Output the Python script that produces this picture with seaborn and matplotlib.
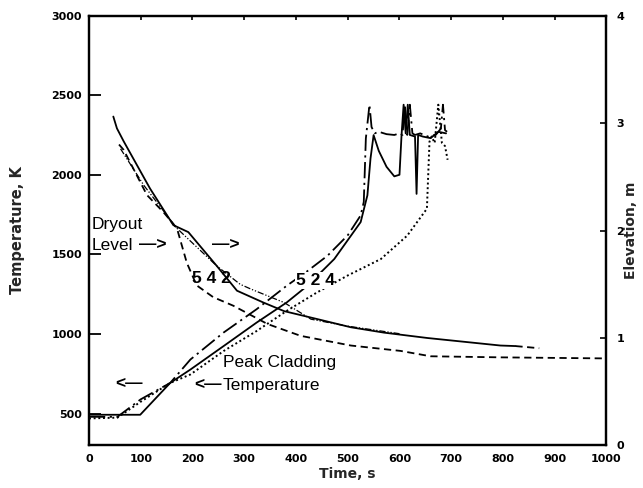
import matplotlib
matplotlib.use("Agg")
import matplotlib.pyplot as plt
import seaborn as sns
import pandas as pd

# ---------------- data ----------------
# Peak cladding temperature (left axis, K)
pct5_t = [0, 55, 100, 157, 196, 260, 324, 382, 420, 461, 500, 525, 531, 535, 542, 546, 552, 560, 575, 590,
          600, 606, 610, 615, 620, 625, 630, 640, 655, 670, 680, 684, 688, 692]
pct5_T = [480, 480, 590, 693, 840, 1009, 1156, 1303, 1390, 1492, 1620, 1745, 1829, 2228, 2440, 2300, 2260, 2270,
          2255, 2250, 2260, 2250, 2440, 2250, 2440, 2260, 2250, 2260, 2240, 2250, 2290, 2440, 2280, 2270]
pct2_t = [0, 99, 130, 157, 196, 260, 324, 382, 422, 474, 525, 538, 544, 550, 560, 575, 590, 600, 604, 608,
          612, 616, 620, 630, 633, 636, 645, 660, 675, 690]
pct2_T = [493, 493, 600, 693, 777, 924, 1072, 1198, 1303, 1471, 1703, 1871, 2102, 2249, 2150, 2050, 1990, 2000,
          2250, 2440, 2260, 2440, 2250, 2240, 1880, 2250, 2240, 2230, 2270, 2260]
pct4_t = [0, 55, 100, 157, 196, 260, 324, 382, 440, 499, 564, 615, 653, 658, 662, 668, 675, 682, 688, 693]
pct4_T = [470, 475, 575, 693, 746, 893, 1019, 1145, 1260, 1366, 1471, 1618, 1787, 2208, 2240, 2200, 2440, 2200,
          2180, 2094]

# Dryout level (right axis, m)
dry2_t = [47, 54, 67, 118, 163, 192, 247, 286, 337, 377, 442, 506, 570, 654, 795, 824]
dry2_z = [3.06, 2.95, 2.83, 2.39, 2.05, 1.985, 1.67, 1.44, 1.33, 1.25, 1.175, 1.10, 1.05, 1.00, 0.93, 0.925]
dry2b_t = [824, 870]
dry2b_z = [0.925, 0.905]
dry4_t = [61, 106, 170, 247, 292, 313, 377, 429, 500, 600]
dry4_z = [2.76, 2.42, 2.02, 1.67, 1.50, 1.455, 1.33, 1.175, 1.11, 1.04]
dry5_t = [58, 67, 112, 144, 170, 189, 208, 240, 279, 345, 409, 506, 602, 660, 795, 1000]
dry5_z = [2.80, 2.75, 2.33, 2.17, 2.02, 1.70, 1.49, 1.38, 1.30, 1.13, 1.02, 0.93, 0.88, 0.83, 0.82, 0.81]

x_ticks = [0, 100, 200, 300, 400, 500, 600, 700, 800, 900, 1000]
y_ticks = [500, 1000, 1500, 2000, 2500, 3000]
z_ticks = [0, 1, 2, 3, 4]

# ---------------- figure ----------------
sns.set_theme(style="white")
plt.rcParams['font.family'] = ['DejaVu Sans']

fig = plt.figure(figsize=(6.43, 4.88), dpi=100)
ax = fig.add_axes([0.1384, 0.0871, 0.8048, 0.8811])
ax2 = ax.twinx()

K = 'black'
dashdot = (0, (9, 2.5, 1.2, 2.5))
dashdotdot = (0, (5, 1.5, 1, 1.5, 1, 1.5))
dotted = (0, (1, 1.4))
dashed = (0, (4, 2.5))

def line(a, x, y, ls, lw=1.3):
    df = pd.DataFrame({'x': x, 'y': y})
    sns.lineplot(data=df, x='x', y='y', ax=a, color=K, linestyle=ls, lw=lw,
                 sort=False, estimator=None)

line(ax, pct5_t, pct5_T, dashdot)
line(ax, pct2_t, pct2_T, '-')
line(ax, pct4_t, pct4_T, dotted, lw=1.4)

line(ax2, dry2_t, dry2_z, '-')
line(ax2, dry2b_t, dry2b_z, dashed)
line(ax2, dry4_t, dry4_z, dashdotdot, lw=0.9)
line(ax2, dry5_t, dry5_z, dashed)

ax.set_xlim(0, 1000)
ax.set_ylim(300, 3000)
ax2.set_ylim(0, 4)

ax.set_xticks(x_ticks)
ax.set_yticks(y_ticks)
ax2.set_yticks(z_ticks)
ax.set_xticklabels([str(v) for v in x_ticks])
ax.set_yticklabels([str(v) for v in y_ticks])
ax2.set_yticklabels([str(v) for v in z_ticks])

for a in (ax, ax2):
    for s in a.spines.values():
        s.set_linewidth(1.6)
        s.set_color(K)

ax.tick_params(axis='y', direction='in', length=8.5, width=1.3, labelsize=8, pad=5, colors=K)
ax.tick_params(axis='x', direction='in', length=3, width=1.2, labelsize=8, pad=6, top=True, colors=K)
ax2.tick_params(axis='y', direction='in', length=4, width=1.2, labelsize=8, pad=7, colors=K)
for lbl in ax.get_xticklabels() + ax.get_yticklabels() + ax2.get_yticklabels():
    lbl.set_fontweight('bold')

ax.set_xlabel('Time, s', fontsize=10, fontweight='bold', labelpad=2)
ax.set_ylabel('Temperature, K', fontsize=10.5, fontweight='bold', labelpad=19)
ax2.set_ylabel('Elevation, m', fontsize=10, fontweight='bold', labelpad=0)

# ---------------- annotations ----------------
tf = dict(family=['Liberation Sans', 'DejaVu Sans'], fontsize=12.5, color=K, zorder=5)
ax.text(6, 1687, 'Dryout', ha='left', va='center', **tf)
ax.text(6, 1555, 'Level', ha='left', va='center', **tf)
ax.text(97, 1560, '\u2014>', ha='left', va='center', fontweight='bold', **tf)
ax.text(238, 1560, '\u2014>', ha='left', va='center', fontweight='bold', **tf)
box = dict(boxstyle='square,pad=0.05', fc='white', ec='none')
ax.text(237, 1348, '5 4 2', ha='center', va='center', bbox=box, fontweight='bold', **tf)
ax.text(437, 1338, '5 2 4', ha='center', va='center', bbox=box, fontweight='bold', **tf)
ax.text(259, 820, 'Peak Cladding', ha='left', va='center', **tf)
ax.text(259, 677, 'Temperature', ha='left', va='center', **tf)
ax.text(256, 682, '<\u2014', ha='right', va='center', fontweight='bold', **tf)
ax.text(104, 690, '<\u2014', ha='right', va='center', fontweight='bold', **tf)

fig.savefig('out.png', dpi=100)
